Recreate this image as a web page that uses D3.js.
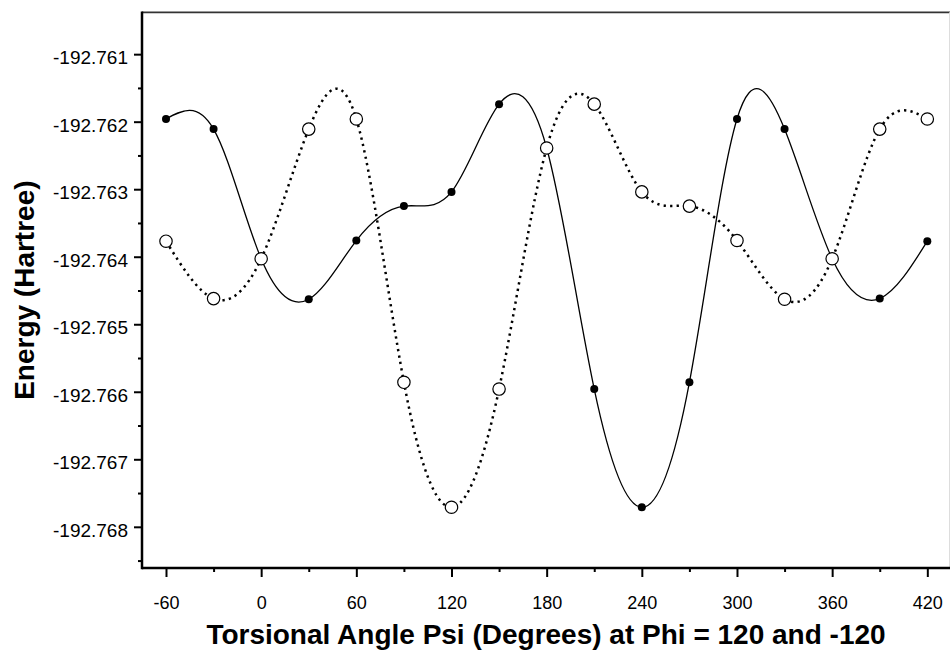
<!DOCTYPE html>
<html>
<head>
<meta charset="utf-8">
<script src="https://cdn.jsdelivr.net/npm/d3@7"></script>
<style>
  html, body { margin: 0; padding: 0; background: #fff; }
  svg { display: block; }
  text { font-family: "Liberation Sans", Arial, sans-serif; }
</style>
</head>
<body>
<svg id="chart" width="950" height="655"></svg>
<script>
// ---- data ----
const psi = [-60, -30, 0, 30, 60, 90, 120, 150, 180, 210, 240, 270, 300, 330, 360, 390, 420];
const energyPhi120 = [-192.76196, -192.76211, -192.76403, -192.76463, -192.76376, -192.76325, -192.76304, -192.76174, -192.76239, -192.76596, -192.76771, -192.76586, -192.76196, -192.76211, -192.76403, -192.76462, -192.76377];
const energyPhiM120 = [-192.76377, -192.76462, -192.76403, -192.76211, -192.76196, -192.76586, -192.76771, -192.76596, -192.76239, -192.76174, -192.76304, -192.76325, -192.76376, -192.76463, -192.76403, -192.76211, -192.76196];
const xTicks = [-60, 0, 60, 120, 180, 240, 300, 360, 420];
const xMinorTicks = [-30, 30, 90, 150, 210, 270, 330, 390];
const yTicks = [-192.761, -192.762, -192.763, -192.764, -192.765, -192.766, -192.767, -192.768];
const yMinorTicks = [-192.7615, -192.7625, -192.7635, -192.7645, -192.7655, -192.7665, -192.7675, -192.7685];
const xTitle = "Torsional Angle Psi (Degrees) at Phi = 120 and -120";
const yTitle = "Energy (Hartree)";

// ---- layout ----
const svg = d3.select("#chart");
const mLeft = 142, mRight = 950, mTop = 12.3, mBottom = 568;

const x = d3.scaleLinear().domain([-75.13, 434.3]).range([mLeft, mRight]);
const y = d3.scaleLinear().domain([-192.76861, -192.76038]).range([mBottom, mTop]);

// top border and right border
svg.append("line").attr("x1", mLeft).attr("x2", mRight).attr("y1", mTop).attr("y2", mTop)
  .attr("stroke", "#333").attr("stroke-width", 1.8);
svg.append("line").attr("x1", 949.5).attr("x2", 949.5).attr("y1", mTop).attr("y2", mBottom)
  .attr("stroke", "#ddd").attr("stroke-width", 1);

// axes
const fmtX = d => String(d);
const fmtY = d => d.toFixed(3);
const xAxis = d3.axisBottom(x).tickValues(xTicks).tickSize(9).tickPadding(20).tickFormat(fmtX);
const xAxisMinor = d3.axisBottom(x).tickValues(xMinorTicks).tickSize(4).tickFormat("");
const yAxis = d3.axisLeft(y).tickValues(yTicks).tickSize(8).tickPadding(6).tickFormat(fmtY);
const yAxisMinor = d3.axisLeft(y).tickValues(yMinorTicks).tickSize(4).tickFormat("");

function styleAxis(size) {
  return g => {
    g.select(".domain").remove();
    g.selectAll(".tick line").attr("stroke", "#000").attr("stroke-width", 2);
    g.selectAll(".tick text").attr("fill", "#000")
      .style("font-family", "'Liberation Sans', Arial, sans-serif").style("font-size", size + "px");
  };
}

svg.append("g").attr("transform", `translate(0,${mBottom})`).call(xAxisMinor).call(styleAxis(18));
const gx = svg.append("g").attr("transform", `translate(0,${mBottom})`).call(xAxis).call(styleAxis(18));
gx.selectAll(".tick text").attr("y", 28).attr("dy", "0.71em");
svg.append("g").attr("transform", `translate(${mLeft},0)`).call(yAxisMinor).call(styleAxis(19));
const gy = svg.append("g").attr("transform", `translate(${mLeft},0)`).call(yAxis).call(styleAxis(19));
gy.selectAll(".tick text").attr("dy", "0.5em");

// axis lines
svg.append("line").attr("x1", mLeft).attr("x2", mRight).attr("y1", mBottom).attr("y2", mBottom)
  .attr("stroke", "#000").attr("stroke-width", 2.5);
svg.append("line").attr("x1", mLeft).attr("x2", mLeft).attr("y1", mTop - 0.9).attr("y2", mBottom + 1.2)
  .attr("stroke", "#000").attr("stroke-width", 2.5);

// curves
const pts1 = psi.map((p, i) => [p, energyPhi120[i]]);
const pts2 = psi.map((p, i) => [p, energyPhiM120[i]]);
const line = d3.line().x(d => x(d[0])).y(d => y(d[1])).curve(d3.curveNatural);

svg.append("path").datum(pts1).attr("d", line)
  .attr("fill", "none").attr("stroke", "#000").attr("stroke-width", 1.3);
svg.append("path").datum(pts2).attr("d", line)
  .attr("fill", "none").attr("stroke", "#000").attr("stroke-width", 2.5)
  .attr("stroke-dasharray", "2.3,4.2");

// markers
svg.append("g").selectAll("circle").data(pts1).join("circle")
  .attr("cx", d => x(d[0])).attr("cy", d => y(d[1])).attr("r", 4)
  .attr("fill", "#000");
svg.append("g").selectAll("circle").data(pts2).join("circle")
  .attr("cx", d => x(d[0])).attr("cy", d => y(d[1])).attr("r", 6.2)
  .attr("fill", "#fff").attr("stroke", "#000").attr("stroke-width", 1.2);

// titles
svg.append("text").attr("x", (mLeft + mRight) / 2).attr("y", 644).attr("text-anchor", "middle")
  .style("font-size", "28px").style("font-weight", "bold").text(xTitle);
svg.append("text").attr("transform", `translate(34,${(mTop + mBottom) / 2}) rotate(-90)`).attr("text-anchor", "middle")
  .style("font-size", "28px").style("font-weight", "bold").text(yTitle);
</script>
</body>
</html>
